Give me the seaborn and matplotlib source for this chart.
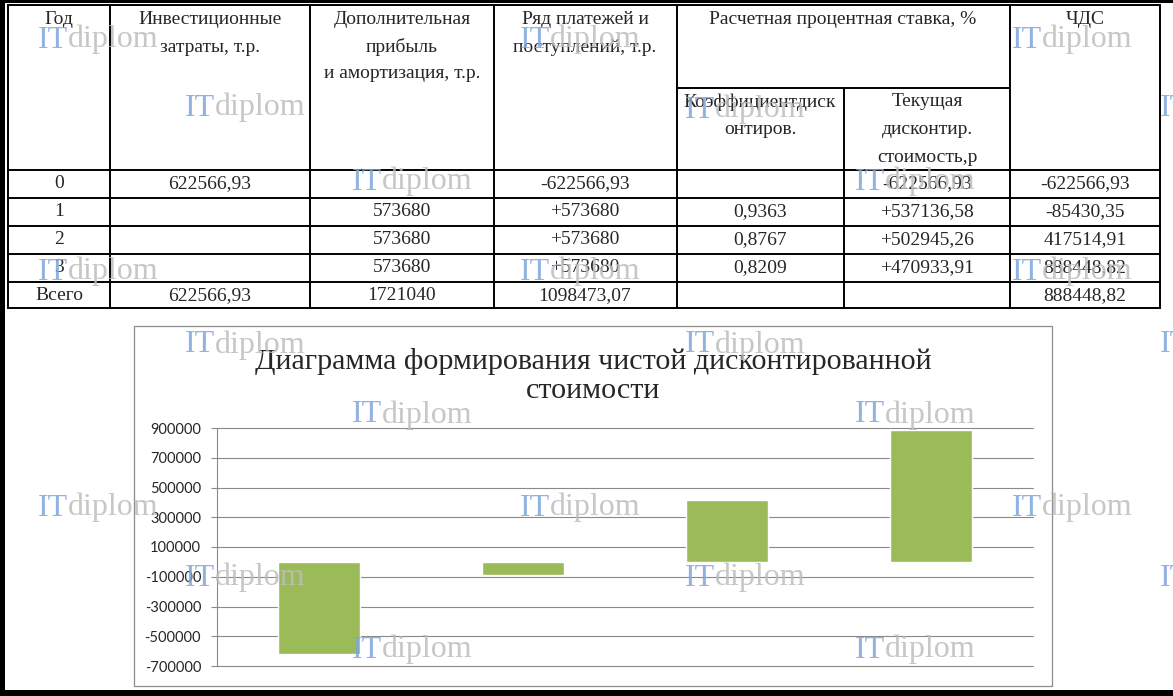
#	NPV table and chart

#Import Necessary Libraries
import matplotlib
matplotlib.use('Agg')
import pandas as pd
import seaborn as sns
from matplotlib import pyplot as plt
from matplotlib.patches import Rectangle

#Data Creation
years = ['0', '1', '2', '3']
invest = ['622566,93', '', '', '']
profit = ['', '573680', '573680', '573680']
payments = ['-622566,93', '+573680', '+573680', '+573680']
disc_coef = ['', '0,9363', '0,8767', '0,8209']
disc_value = ['-622566,93', '+537136,58', '+502945,26', '+470933,91']
npv = [-622566.93, -85430.35, 417514.91, 888448.82]
total_row = ['Всего', '622566,93', '1721040', '1098473,07', '', '', '888448,82']
y_ticks = [-700000, -500000, -300000, -100000, 100000, 300000, 500000, 700000, 900000]

chart_title = 'Диаграмма формирования чистой дисконтированной\nстоимости'

#Creating DataFrame
npv_data = pd.DataFrame({'Год': years, 'ЧДС': npv})
npv_text = ['{:.2f}'.format(v).replace('.', ',') for v in npv]

#Sizes in pixels
W, H = 1173, 696
serif = ['Liberation Serif', 'DejaVu Serif']

sns.set_style('white')
plt.rcParams['font.family'] = ['Lato', 'DejaVu Sans']
plt.rcParams['axes.unicode_minus'] = False

fig = plt.figure(figsize=(W / 100, H / 100), dpi=100)

#Chart
ax = fig.add_axes([217 / W, 1 - 666 / H, 816 / W, 238 / H])
sns.barplot(x='Год', y='ЧДС', data=npv_data, color='#9BBB59', saturation=1,
            width=0.4, errorbar=None, ax=ax)
ax.set_ylim(-700000, 900000)
ax.set_xlim(-0.5, 3.5)
ax.set_yticks(y_ticks)
ax.set_yticklabels([str(t) for t in y_ticks])
ax.set_xticks([])
ax.set_xlabel('')
ax.set_ylabel('')
ax.yaxis.grid(True, color='#8a8a8a', lw=0.8)
for gl in ax.get_ygridlines():
    gl.set_clip_on(False)
ax.set_axisbelow(True)
for s in ['top', 'right', 'bottom']:
    ax.spines[s].set_visible(False)
ax.spines['left'].set_color('#8a8a8a')
ax.spines['left'].set_linewidth(0.8)
ax.tick_params(axis='y', length=4.5, width=0.8, color='#8a8a8a', pad=7,
               labelsize=10.5, labelcolor='#262626', left=True)

#Overlay for table, frame and marks
ov = fig.add_axes([0, 0, 1, 1])
ov.set_xlim(0, W)
ov.set_ylim(H, 0)
ov.axis('off')

#Page frame
ov.add_patch(Rectangle((0, 0), 5, H, color='black', lw=0))
ov.add_patch(Rectangle((0, 0), W, 3, color='black', lw=0))
ov.add_patch(Rectangle((0, 690), W, 6, color='black', lw=0))

#Chart box
ov.add_patch(Rectangle((134, 326), 918, 360, fill=False, ec='#8c8c8c', lw=0.9))
ov.text(593, 376, chart_title, ha='center', va='center', fontsize=21.6,
        family=serif, linespacing=1.14)

#Table grid
lw = 1.4
row_y = [170, 198, 226, 254, 282]
top, bottom = 5, 308
ov.add_patch(Rectangle((8, top), 1152, bottom - top, fill=False, ec='black', lw=lw))
for x in [110, 310, 494, 677, 1010]:
    ov.plot([x, x], [top, bottom], color='black', lw=lw)
ov.plot([844, 844], [88, bottom], color='black', lw=lw)
ov.plot([677, 1010], [88, 88], color='black', lw=lw)
for y in row_y:
    ov.plot([8, 1160], [y, y], color='black', lw=lw)

#Header text
fs = 14
headers = [
    (59, ['Год']),
    (210, ['Инвестиционные', 'затраты, т.р.']),
    (402, ['Дополнительная', 'прибыль', 'и амортизация, т.р.']),
    (585, ['Ряд платежей и', 'поступлений, т.р.']),
    (843, ['Расчетная процентная ставка, %']),
    (1085, ['ЧДС']),
]
for x, lines in headers:
    for i, line in enumerate(lines):
        ov.text(x, 20 + 27 * i, line, ha='center', va='center', fontsize=fs, family=serif)
sub_headers = [
    (760, ['Коэффициентдиск', 'онтиров.']),
    (927, ['Текущая', 'дисконтир.', 'стоимость,р']),
]
for x, lines in sub_headers:
    for i, line in enumerate(lines):
        ov.text(x, 102 + 27.5 * i, line, ha='center', va='center', fontsize=fs, family=serif)

#Table rows
centers = [59, 210, 402, 585, 760, 927, 1085]
rows = list(zip(years, invest, profit, payments, disc_coef, disc_value, npv_text)) + [total_row]
for r, row in enumerate(rows):
    y = 184 + 28 * r
    for x, val in zip(centers, row):
        if val:
            ov.text(x, y, val, ha='center', va='center', fontsize=fs, family=serif)

#Watermarks
marks = [(38, 40), (520, 40), (1012, 40),
         (185, 108), (685, 110), (1160, 108),
         (352, 182), (855, 182),
         (38, 272), (520, 272), (1012, 272),
         (185, 345), (685, 345), (1160, 345),
         (352, 415), (855, 415),
         (38, 508), (520, 508), (1012, 508),
         (185, 578), (685, 578), (1160, 578),
         (352, 650), (855, 650)]
for mx, my in marks:
    t = ov.text(mx, my, 'IT', ha='left', va='center', fontsize=23, family=serif,
                color='#7ea6dc', alpha=0.85, zorder=10)
    ov.annotate('diplom', xy=(1, 0), xycoords=t, ha='left', va='bottom', fontsize=23,
                family=serif, color='#bdbdbd', alpha=0.85, zorder=10)

plt.savefig('out.png', dpi=100)
